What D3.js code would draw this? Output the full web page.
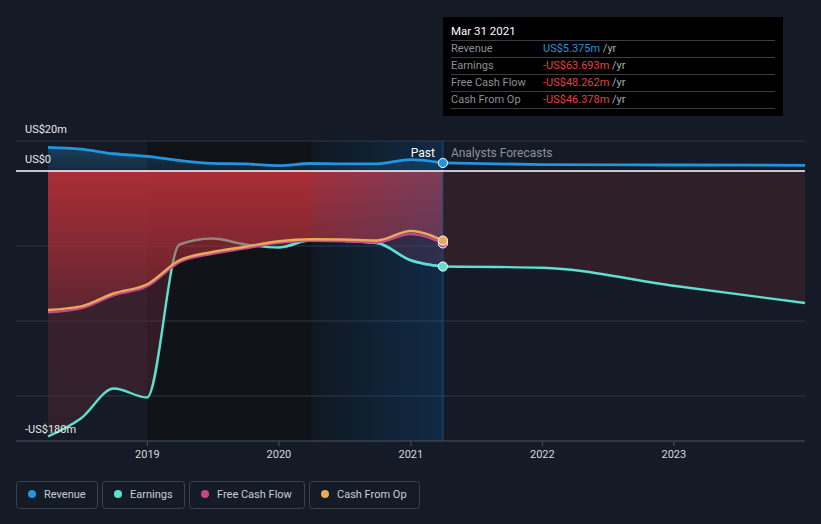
<!DOCTYPE html>
<html>
<head>
<meta charset="utf-8">
<script src="https://cdn.jsdelivr.net/npm/d3@7/dist/d3.min.js"></script>
<style>
  html, body { margin: 0; padding: 0; background: #151b26; }
  svg { display: block; font-family: Roboto, "Noto Sans", sans-serif; }
</style>
</head>
<body>
<svg id="chart" width="821" height="524"></svg>
<script>
// ---------------- DATA ----------------
const pastDates = ["2018-03-31","2018-06-30","2018-09-30","2018-12-31","2019-03-31","2019-06-30",
  "2019-09-30","2019-12-31","2020-03-31","2020-06-30","2020-09-30","2020-12-31","2021-03-31"];
const revenuePast  = [15.8, 14.6, 11.5, 9.8, 7.0, 5.1, 4.7, 3.6, 5.0, 4.7, 4.8, 7.6, 5.375];
const earningsPast = [-177, -165, -145, -151, -49, -45, -49, -51, -46, -46.5, -48, -59.5, -63.693];
const fcfPast      = [-94.2, -91.6, -82.8, -76.8, -60.8, -55.2, -51.6, -47.8, -46.5, -46.8, -47.5, -42.0, -48.262];
const cfoPast      = [-92.7, -90.3, -81.5, -75.5, -59.5, -54.0, -50.5, -46.8, -45.5, -45.7, -46.3, -40.0, -46.378];

const forecastDates    = ["2021-03-31","2021-12-31","2022-12-31","2023-12-31"];
const revenueForecast  = [5.375, 4.3, 4.0, 3.8];
const earningsForecast = [-63.693, -64.5, -76.5, -88];

const yLabelValues = [20, 0, -180];
const yLabelTexts  = ["US$20m", "US$0", "-US$180m"];
const gridValues   = [20, -50, -100, -150];
const xTickYears   = [2019, 2020, 2021, 2022, 2023];

const seriesNames  = ["Revenue", "Earnings", "Free Cash Flow", "Cash From Op"];
const seriesColors = ["#2394df", "#5de0cf", "#c4488a", "#e8a95a"];

const tooltipTitle  = "Mar 31 2021";
const tooltipValues = ["US$5.375m", "-US$63.693m", "-US$48.262m", "-US$46.378m"];

const darkBandStart = "2019-01-01";
const highlightStart = "2020-03-31";

// ---------------- SETUP ----------------
const parse = d3.timeParse("%Y-%m-%d");
const svg = d3.select("#chart");
const W = 821, H = 524;

const x = d3.scaleTime()
  .domain([parse("2018-03-31"), parse("2023-12-31")])
  .range([48, 805]);
const y = d3.scaleLinear().domain([-180, 20]).range([441, 141]);

const past = pastDates.map((d, i) => ({
  date: parse(d), rev: revenuePast[i], earn: earningsPast[i], fcf: fcfPast[i], cfo: cfoPast[i]
}));
const fc = forecastDates.map((d, i) => ({ date: parse(d), rev: revenueForecast[i], earn: earningsForecast[i] }));

const xNow = x(parse("2021-03-31"));
const xDark = x(parse(darkBandStart));
const xHi = x(parse(highlightStart));
const y0 = y(0);
const curve = d3.curveMonotoneX;

const defs = svg.append("defs");

// background
svg.append("rect").attr("width", W).attr("height", H).attr("fill", "#151b26");

// dark band
svg.append("rect").attr("x", xDark).attr("y", y(20)).attr("width", xNow - xDark)
  .attr("height", y(-180) - y(20)).attr("fill", "#0f1318");

// gradients
const gRed = defs.append("linearGradient").attr("id", "gRed")
  .attr("gradientUnits", "userSpaceOnUse").attr("x1", 0).attr("x2", 0).attr("y1", y0).attr("y2", y(-110));
gRed.append("stop").attr("offset", 0).attr("stop-color", "#c8323a").attr("stop-opacity", 0.78);
gRed.append("stop").attr("offset", 1).attr("stop-color", "#c8323a").attr("stop-opacity", 0.18);

const gEarn = defs.append("linearGradient").attr("id", "gEarn")
  .attr("gradientUnits", "userSpaceOnUse").attr("x1", 0).attr("x2", 0).attr("y1", y0).attr("y2", y(-180));
gEarn.append("stop").attr("offset", 0).attr("stop-color", "#7a2838").attr("stop-opacity", 0.45);
gEarn.append("stop").attr("offset", 1).attr("stop-color", "#6e2a3a").attr("stop-opacity", 0.3);

const gBlue = defs.append("linearGradient").attr("id", "gBlue")
  .attr("gradientUnits", "userSpaceOnUse").attr("x1", xHi).attr("x2", xNow).attr("y1", 0).attr("y2", 0);
gBlue.append("stop").attr("offset", 0).attr("stop-color", "#1460b0").attr("stop-opacity", 0.06);
gBlue.append("stop").attr("offset", 1).attr("stop-color", "#1460b0").attr("stop-opacity", 0.3);

const gRev = defs.append("linearGradient").attr("id", "gRev")
  .attr("gradientUnits", "userSpaceOnUse").attr("x1", 0).attr("x2", 0).attr("y1", y(16)).attr("y2", y0);
gRev.append("stop").attr("offset", 0).attr("stop-color", "#2394df").attr("stop-opacity", 0.3);
gRev.append("stop").attr("offset", 1).attr("stop-color", "#2394df").attr("stop-opacity", 0.12);

// gridlines
svg.append("g").selectAll("line").data(gridValues).join("line")
  .attr("x1", 16).attr("x2", 805).attr("y1", d => y(d)).attr("y2", d => y(d))
  .attr("stroke", "#2e3540").attr("stroke-width", 1);

// earnings area (past + forecast)
const earnArea = d3.area().x(d => x(d.date)).y0(y0).y1(d => y(d.earn)).curve(curve);
svg.append("path").datum(past).attr("d", earnArea).attr("fill", "url(#gEarn)");
svg.append("path").datum(fc).attr("d", earnArea).attr("fill", "#2f2029").attr("opacity", 0.95);

// earnings line (under cash-flow fill)
const lineOf = key => d3.line().x(d => x(d.date)).y(d => y(d[key])).curve(curve);
svg.append("path").datum(past).attr("d", lineOf("earn"))
  .attr("fill", "none").attr("stroke", seriesColors[1]).attr("stroke-width", 2.4);

// cash from op area
const cfoArea = d3.area().x(d => x(d.date)).y0(y0).y1(d => y(d.cfo)).curve(curve);
svg.append("path").datum(past).attr("d", cfoArea).attr("fill", "url(#gRed)");

// highlight overlay (last year)
svg.append("rect").attr("x", xHi).attr("y", y(20)).attr("width", xNow - xHi)
  .attr("height", y(-180) - y(20)).attr("fill", "url(#gBlue)");

// re-draw earnings line in highlight + forecast region on top
defs.append("clipPath").attr("id", "clipRight").append("rect")
  .attr("x", x(parse("2020-01-20"))).attr("y", 0).attr("width", W).attr("height", H);
svg.append("path").datum(past).attr("d", lineOf("earn")).attr("clip-path", "url(#clipRight)")
  .attr("fill", "none").attr("stroke", seriesColors[1]).attr("stroke-width", 2.4);
svg.append("path").datum(fc).attr("d", lineOf("earn"))
  .attr("fill", "none").attr("stroke", seriesColors[1]).attr("stroke-width", 2.4);

// vertical now line
svg.append("line").attr("x1", xNow).attr("x2", xNow).attr("y1", y(20)).attr("y2", y(-180))
  .attr("stroke", "#1f4a7e").attr("stroke-width", 1);

// revenue area + line
const revArea = d3.area().x(d => x(d.date)).y0(y0).y1(d => y(d.rev)).curve(curve);
svg.append("path").datum(past).attr("d", revArea).attr("fill", "url(#gRev)");

// zero line
svg.append("line").attr("x1", 16).attr("x2", 805).attr("y1", y0).attr("y2", y0)
  .attr("stroke", "#ffffff").attr("stroke-width", 1.5);

svg.append("path").datum(past).attr("d", lineOf("rev"))
  .attr("fill", "none").attr("stroke", seriesColors[0]).attr("stroke-width", 2.8);
svg.append("path").datum(fc).attr("d", lineOf("rev"))
  .attr("fill", "none").attr("stroke", seriesColors[0]).attr("stroke-width", 2.8);

// FCF + CFO lines
svg.append("path").datum(past).attr("d", lineOf("fcf"))
  .attr("fill", "none").attr("stroke", seriesColors[2]).attr("stroke-width", 2.4);
svg.append("path").datum(past).attr("d", lineOf("cfo"))
  .attr("fill", "none").attr("stroke", seriesColors[3]).attr("stroke-width", 2.4);

// markers at now
const last = past[past.length - 1];
[["rev", 0], ["earn", 1], ["fcf", 2], ["cfo", 3]].forEach(([k, i]) => {
  svg.append("circle").attr("cx", x(last.date)).attr("cy", y(last[k])).attr("r", 4.6)
    .attr("fill", seriesColors[i]).attr("stroke", "#ffffff").attr("stroke-width", 1);
});

// x axis
const xAxisG = svg.append("g").attr("transform", `translate(0,${y(-180)})`);
xAxisG.append("line").attr("x1", 16).attr("x2", 805).attr("stroke", "#4a515c").attr("stroke-width", 1);
const xTicks = xTickYears.map(yr => new Date(yr, 0, 1));
xAxisG.selectAll("line.t").data(xTicks).join("line").attr("class", "t")
  .attr("x1", d => x(d)).attr("x2", d => x(d)).attr("y1", 0).attr("y2", 5)
  .attr("stroke", "#4a515c");
xAxisG.selectAll("text").data(xTicks).join("text")
  .attr("x", d => x(d)).attr("y", 16.5).attr("text-anchor", "middle")
  .attr("fill", "#d4d7db").attr("font-size", 11).text(d => d3.timeFormat("%Y")(d));

// y labels
svg.append("g").selectAll("text").data(yLabelValues).join("text")
  .attr("x", 25).attr("y", (d, i) => y(d) - (i === 2 ? 8.5 : 8.5))
  .attr("fill", "#e6e8ea").attr("font-size", 11)
  .text((d, i) => yLabelTexts[i]);

// Past / Analysts Forecasts
svg.append("text").attr("x", xNow - 8).attr("y", 157).attr("text-anchor", "end")
  .attr("fill", "#ffffff").attr("font-size", 12).text("Past");
svg.append("text").attr("x", xNow + 8).attr("y", 157)
  .attr("fill", "#8b9099").attr("font-size", 12).text("Analysts Forecasts");

// tooltip
const tt = svg.append("g");
tt.append("rect").attr("x", 443).attr("y", 17).attr("width", 340).attr("height", 99).attr("fill", "#000000");
tt.append("text").attr("x", 451).attr("y", 35).attr("fill", "#ffffff").attr("font-size", 11.5).text(tooltipTitle);
seriesNames.forEach((name, i) => {
  const top = 40 + i * 17;
  tt.append("line").attr("x1", 451).attr("x2", 775).attr("y1", top + 0.5).attr("y2", top + 0.5)
    .attr("stroke", "#3a3d42").attr("stroke-width", 1);
  tt.append("text").attr("x", 451).attr("y", top + 12).attr("fill", "#8c9097").attr("font-size", 11).text(name);
  const t = tt.append("text").attr("x", 543).attr("y", top + 12).attr("font-size", 11);
  t.append("tspan").attr("fill", i === 0 ? "#2394df" : "#e5413f").text(tooltipValues[i]);
  t.append("tspan").attr("fill", "#a9adb3").text(" /yr");
});
tt.append("line").attr("x1", 451).attr("x2", 775).attr("y1", 108.5).attr("y2", 108.5)
  .attr("stroke", "#3a3d42").attr("stroke-width", 1);

// legend
const legendX = [16, 102, 189, 309];
const legendW = [81, 82, 115, 110];
const lg = svg.append("g");
seriesNames.forEach((name, i) => {
  lg.append("rect").attr("x", legendX[i] + 0.5).attr("y", 481.5).attr("width", legendW[i]).attr("height", 27)
    .attr("rx", 3).attr("fill", "none").attr("stroke", "#3b414b").attr("stroke-width", 1);
  lg.append("circle").attr("cx", legendX[i] + 16).attr("cy", 494).attr("r", 4).attr("fill", seriesColors[i]);
  lg.append("text").attr("x", legendX[i] + 28).attr("y", 498).attr("fill", "#c9cdd2").attr("font-size", 11).text(name);
});
</script>
</body>
</html>
